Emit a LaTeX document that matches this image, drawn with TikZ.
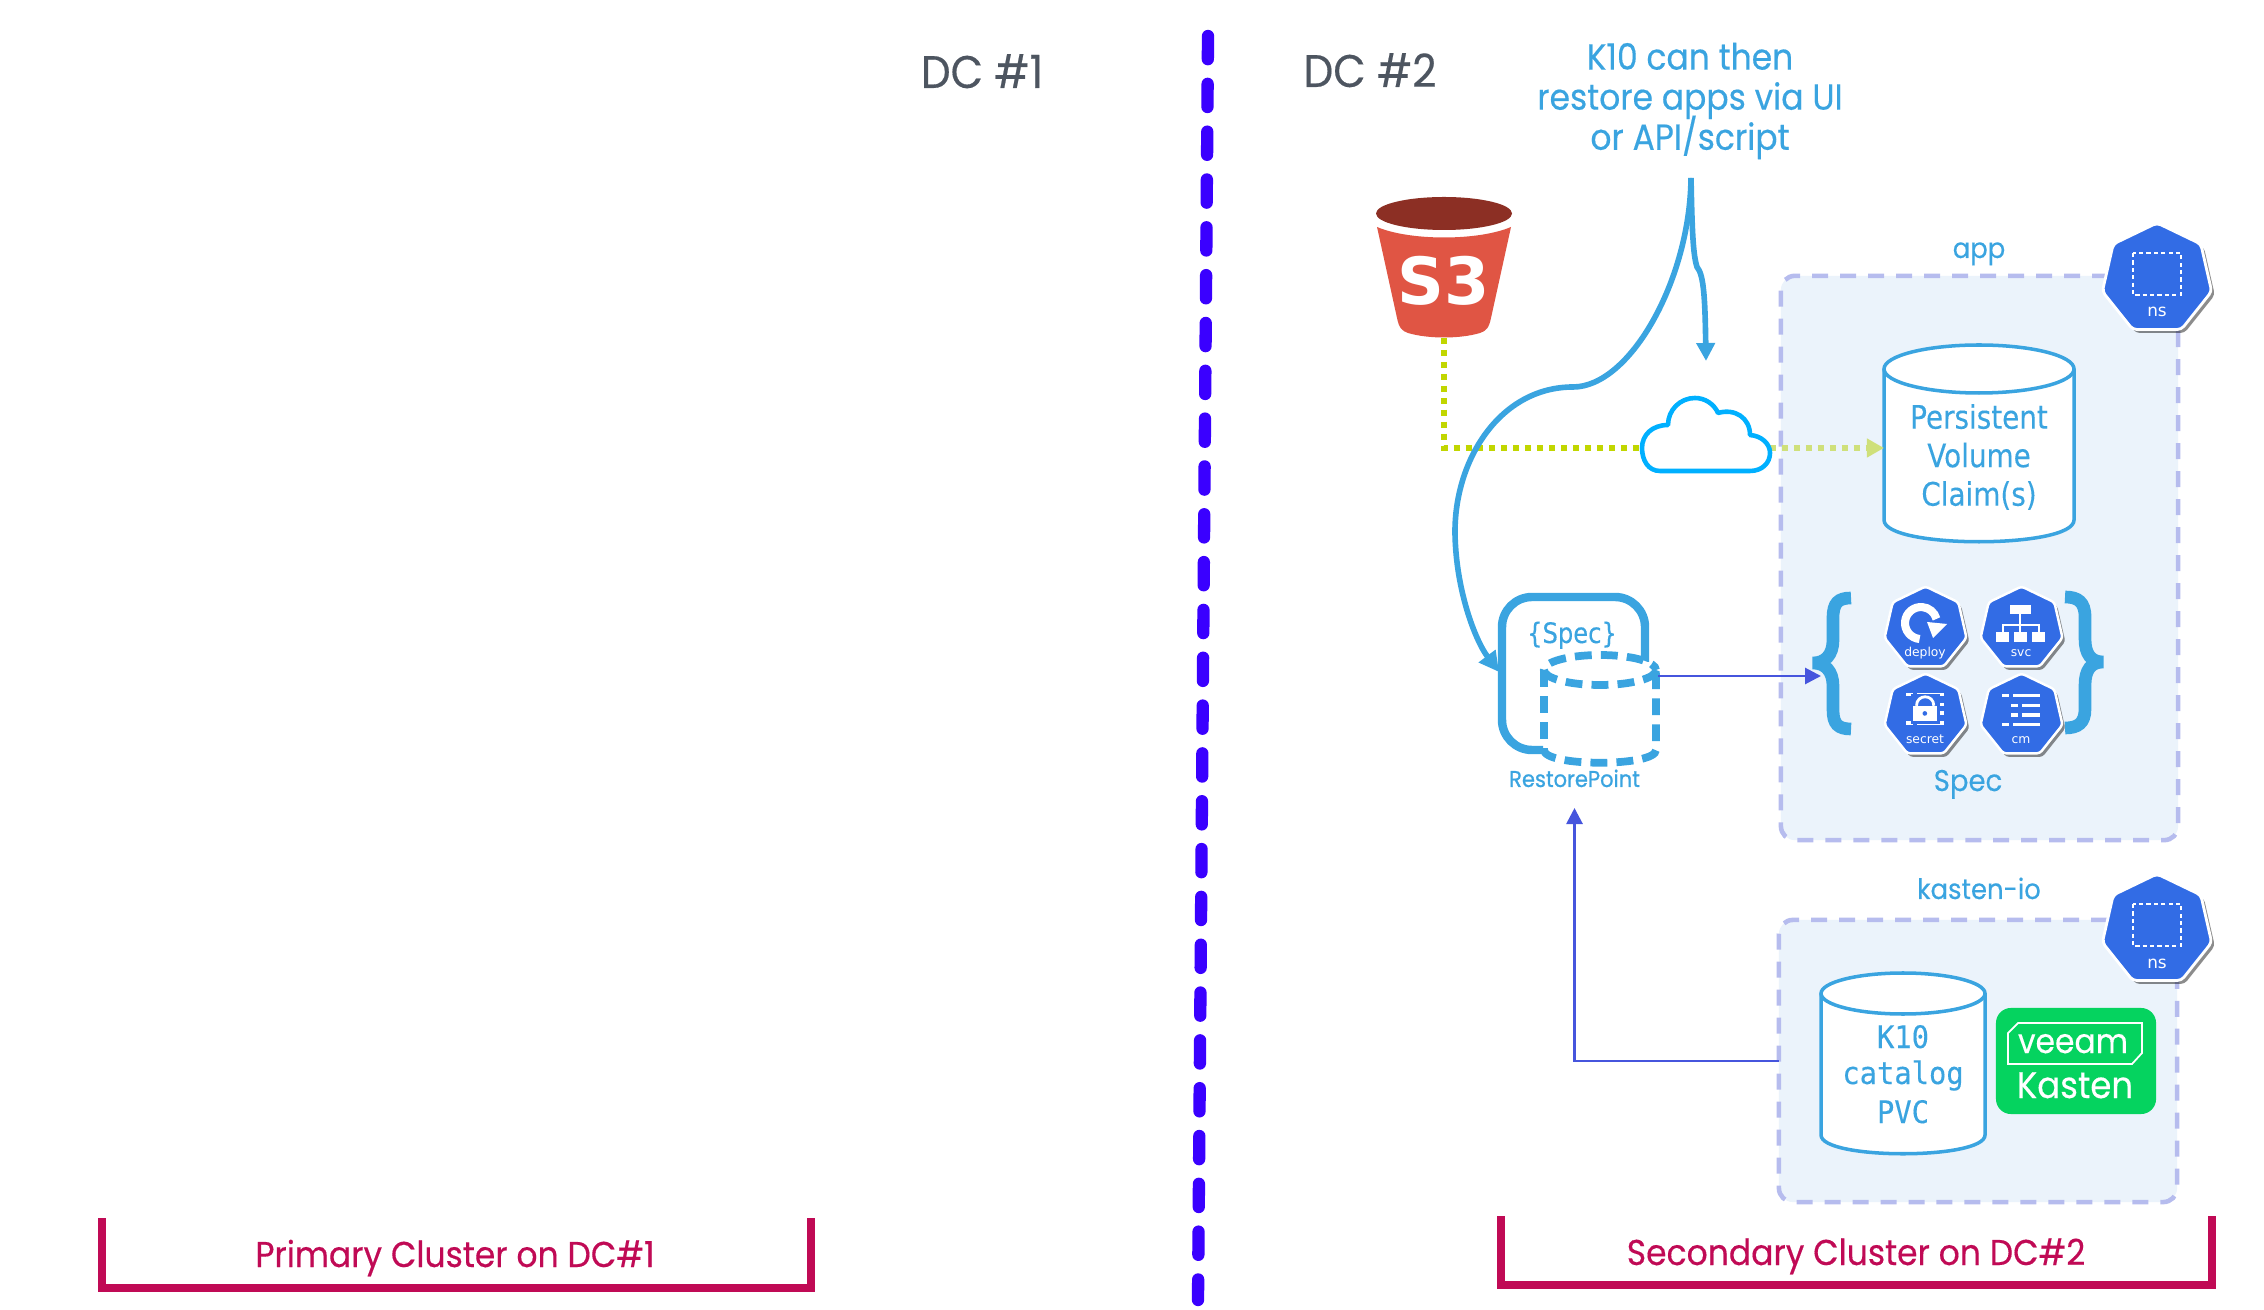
\documentclass[tikz,border=0pt]{standalone}
\usepackage{fontspec}
\usetikzlibrary{arrows.meta,shapes.geometric,shadows}
\setmainfont{Poppins}
\newfontfamily\popn[FakeStretch=0.92,FakeBold=0.35]{Poppins}
\newfontfamily\popnote[FakeStretch=0.91,FakeBold=0.35]{Poppins}
\newfontfamily\popb[FakeStretch=0.92,FakeBold=0.8]{Poppins}
\newfontfamily\djv{DejaVu Sans}
\newfontfamily\djvn[FakeStretch=0.86,FakeBold=0.15]{DejaVu Sans}
\newfontfamily\djvb{DejaVu Sans Bold}
\newfontfamily\djvm[FakeStretch=0.93,FakeBold=0.2]{DejaVu Sans Mono}
\definecolor{kblue}{HTML}{3AA4E0}
\definecolor{kindigo}{HTML}{4655DD}
\definecolor{kviolet}{HTML}{3A00FF}
\definecolor{kpanel}{HTML}{EBF3FB}
\definecolor{kdash}{HTML}{B6BCEE}
\definecolor{kgreen}{HTML}{C1D600}
\definecolor{kpale}{HTML}{CFE07A}
\definecolor{kcloud}{HTML}{00B0FF}
\definecolor{kmag}{HTML}{C00A55}
\definecolor{kgrey}{HTML}{4D5560}
\definecolor{khept}{HTML}{326CE5}
\definecolor{kveeam}{HTML}{05D35F}
\definecolor{klid}{HTML}{8C2F24}
\definecolor{kbody}{HTML}{E05544}
\tikzset{
  panelbox/.style={draw=kdash,fill=kpanel,line width=1.3pt,dash pattern=on 4.55pt off 3.41pt,rounded corners=.14cm,outer sep=0,inner sep=0},
  cylline/.style={draw=kblue,line width=1pt,fill=white},
  bluetext/.style={text=kblue,inner sep=0,outer sep=0},
  greytext/.style={text=kgrey,inner sep=0,font=\popn\fontsize{13}{15}\selectfont},
  magtext/.style={text=kmag,inner sep=0,font=\popn\fontsize{10.2}{12}\selectfont},
  bracketline/.style={draw=kmag,line width=2.28pt},
  bigcurve/.style={draw=kblue,line width=1.6pt},
  dotline/.style={line width=1.7pt,dash pattern=on 1.7pt off 1.7pt},
  heptbig/.style={regular polygon,regular polygon sides=7,minimum size=1.12cm,inner sep=0,outer sep=0,fill=khept,draw=white,line width=.8pt,rounded corners=.04cm,drop shadow={shadow xshift=.9pt,shadow yshift=-1pt,opacity=.45,fill=black}},
  heptsmall/.style={regular polygon,regular polygon sides=7,minimum size=.84cm,inner sep=0,outer sep=0,fill=khept,draw=white,line width=.7pt,rounded corners=.03cm,drop shadow={shadow xshift=.8pt,shadow yshift=-1pt,opacity=.45,fill=black}},
  hepttext/.style={text=white,inner sep=0,font=\djv\fontsize{3.5}{4}\selectfont},
  nstext/.style={text=white,inner sep=0,font=\djv\fontsize{4.8}{5}\selectfont},
  iconfill/.style={fill=white,draw=none},
  bracestroke/.style={draw=kblue,line width=3.6pt},
}
\lineskiplimit=-100pt
\begin{document}
\begin{tikzpicture}[x=0.01cm,y=-0.01cm]
\useasboundingbox (0,0) rectangle (2264,1310);

% panels
\node[panelbox,minimum width=3.97cm,minimum height=5.64cm] (apppanel) at (1979.5,558) {};
\node[panelbox,minimum width=3.98cm,minimum height=2.82cm] (kastenpanel) at (1978,1061) {};

% divider
\coordinate (divtop) at (1208,36);
\coordinate (divbot) at (1198,1300);
\draw[kviolet,line width=3.5pt,line cap=round,dash pattern=on 6.6pt off 7pt] (divtop) -- (divbot);

% titles
\node[greytext,anchor=base] (dc1) at (982,88) {DC \#1};
\node[greytext,anchor=base] (dc2) at (1370,87) {DC \#2};
\node[bluetext,align=center,font=\popnote\fontsize{10.3}{11.4}\selectfont] (note) at (1690,101) {K10 can then\\restore apps via UI\\or API/script};

% brackets
\coordinate (b1a) at (102,1218); \coordinate (b1b) at (102,1288);
\coordinate (b1c) at (811,1288); \coordinate (b1d) at (811,1218);
\draw[bracketline] (b1a) -- (b1b) -- (b1c) -- (b1d);
\coordinate (b2a) at (1501,1216); \coordinate (b2b) at (1501,1285);
\coordinate (b2c) at (2212,1285); \coordinate (b2d) at (2212,1216);
\draw[bracketline] (b2a) -- (b2b) -- (b2c) -- (b2d);
\node[magtext,anchor=base] (primary) at (455,1267) {Primary Cluster on DC\#1};
\node[magtext,anchor=base] (secondary) at (1856,1265) {Secondary Cluster on DC\#2};

% S3 bucket
\fill[kbody] (1377,227) .. controls (1410,241) and (1478,241) .. (1511,227) -- (1491,318) .. controls (1489,328) and (1486,331) .. (1480,333) .. controls (1460,339) and (1428,339) .. (1408,333) .. controls (1402,331) and (1399,328) .. (1397,318) -- cycle;
\fill[klid] (1444,213.5) ellipse [x radius=68,y radius=16.5];
\node[text=white,inner sep=0,anchor=base,font=\djvb\fontsize{18.5}{20}\selectfont] (s3) at (1444,305) {S3};
\coordinate (s3foot) at (1444,338);

% dotted green lines
\coordinate (cloudw) at (1642,448);
\coordinate (cloude) at (1770,448);

% PVC cylinder
\draw[cylline] (1884,369) -- (1884,520) .. controls (1884,549) and (2074,549) .. (2074,520) -- (2074,369);
\draw[cylline] (1979,369) ellipse [x radius=95,y radius=24];
\node[inner sep=0,outer sep=0,minimum width=1.9cm,minimum height=1.97cm] (pvc) at (1979,443.5) {};
\node[bluetext,align=center,font=\djvn\fontsize{9.2}{10.95}\selectfont] (pvctext) at (1979,457) {Persistent\\Volume\\Claim(s)};

\draw[kgreen,dotline] (s3foot) |- (cloudw);
\draw[kpale,dotline,-{Triangle[length=.17cm,width=.18cm]}] (cloude) -- (pvc.west |- cloude);

% cloud
\draw[kcloud,line width=1.3pt,fill=white,line join=round] (1660,471)
  .. controls (1648,471) and (1642,460) .. (1642,448)
  .. controls (1642,435) and (1652,425) .. (1668,425)
  .. controls (1668,410) and (1680,398) .. (1695,398)
  .. controls (1705,398) and (1714,404) .. (1718,413)
  .. controls (1735,408) and (1750,418) .. (1750,435)
  .. controls (1762,436) and (1770,444) .. (1770,453)
  .. controls (1770,463) and (1762,471) .. (1750,471) -- cycle;

% big curves
\coordinate (notefoot) at (1691,178);
\coordinate (cloudtip) at (1706,361);
\coordinate (rptip) at (1499,672);
\draw[bigcurve,-{Triangle[length=.2cm,width=.2cm]}] (notefoot) .. controls (1690,280) and (1630,387) .. (1573,387) .. controls (1500,387) and (1454,460) .. (1455,534) .. controls (1456,590) and (1475,640) .. (rptip);
\draw[bigcurve,-{Triangle[length=.18cm,width=.18cm]}] (notefoot) .. controls (1692,230) and (1693,255) .. (1697,267) .. controls (1704,275) and (1705,300) .. (cloudtip);

% restore point
\draw[kblue,line width=2.4pt,rounded corners=.3cm] (1543,750) -- (1502,750) -- (1502,597) -- (1645,597) -- (1645,662);
\fill[white] (1544,670) -- (1544,750) .. controls (1544,767) and (1656,767) .. (1656,750) -- (1656,670) -- cycle;
\fill[white] (1600,670) ellipse [x radius=56,y radius=15];
\draw[kblue,line width=2.2pt,dash pattern=on 4.8pt off 2.6pt] (1544,670) -- (1544,750) .. controls (1544,767) and (1656,767) .. (1656,750) -- (1656,670);
\draw[kblue,line width=2.2pt,dash pattern=on 4.8pt off 2.6pt] (1600,670) ellipse [x radius=56,y radius=15];
\node[bluetext,anchor=base,font=\djvn\fontsize{8}{9}\selectfont] (spectag) at (1572,643) {\{Spec\}};
\node[bluetext,anchor=base,font=\popb\fontsize{6.5}{8}\selectfont] (rplabel) at (1574.5,787) {RestorePoint};
\node[inner sep=0,outer sep=0,minimum width=1.15cm,minimum height=.1cm] (rp) at (1600.5,676) {};
\coordinate (rpfoot) at (1574.5,808);
\coordinate (bracein) at (1821,676);

% connectors
\draw[kindigo,line width=.8pt,-{Triangle[length=.16cm,width=.16cm]}] (rp.east) -- (bracein);
\draw[kindigo,line width=.8pt,-{Triangle[length=.16cm,width=.16cm]}] (kastenpanel.west) -| (rpfoot);

% panel labels
\node[bluetext,anchor=base,font=\popn\fontsize{8}{9}\selectfont] (applabel) at (1979,258) {app};
\node[bluetext,anchor=base,font=\popn\fontsize{8}{9}\selectfont] (kastenlabel) at (1979,899) {kasten-io};
\node[bluetext,anchor=base,font=\popn\fontsize{8.5}{10}\selectfont] (speclabel) at (1968,791) {Spec};

% braces
\draw[bracestroke] (1851,598) .. controls (1838,598) and (1833,603) .. (1833,618) -- (1833,640) .. controls (1833,655) and (1825,663) .. (1813,663) .. controls (1825,663) and (1833,671) .. (1833,686) -- (1833,710) .. controls (1833,724) and (1838,729) .. (1851,729);
\draw[bracestroke] (2065,597) .. controls (2078,597) and (2085,602) .. (2085,617) -- (2085,639) .. controls (2085,654) and (2091,662) .. (2103,662) .. controls (2091,662) and (2085,670) .. (2085,685) -- (2085,709) .. controls (2085,723) and (2078,728) .. (2065,728);

% ns badges
\node[heptbig] (nsapp) at (2157,279) {};
\draw[white,line width=.5pt,dash pattern=on 1.2pt off .9pt] (2133,253) rectangle (2181,295);
\node[nstext,anchor=base] (nsapplabel) at (2157,317) {ns};
\node[heptbig] (nskasten) at (2157,930) {};
\draw[white,line width=.5pt,dash pattern=on 1.2pt off .9pt] (2133,904) rectangle (2181,946);
\node[nstext,anchor=base] (nskastenlabel) at (2157,968) {ns};

% spec badges
\node[heptsmall] (deploy) at (1925.5,628.5) {};
\node[heptsmall] (svc) at (2021.5,628.5) {};
\node[heptsmall] (secret) at (1925.5,715.5) {};
\node[heptsmall] (cm) at (2021.5,715.5) {};
\node[hepttext,anchor=base] (deploylabel) at (1925,657) {deploy};
\node[hepttext,anchor=base] (svclabel) at (2021,657) {svc};
\node[hepttext,anchor=base] (secretlabel) at (1925,744) {secret};
\node[hepttext,anchor=base] (cmlabel) at (2021,744) {cm};

% deploy icon
\draw[white,line width=2.3pt] (1919.6,639) arc[start angle=265,end angle=15,radius=.16cm];
\fill[iconfill] (1927,622) -- (1947,624) -- (1933,638) -- cycle;

\begin{scope}[shift={(1800,570)},x=0.003333cm,y=-0.003333cm]
% svc icon
\fill[iconfill] (630,105) rectangle (695,133);
\fill[iconfill] (590,187) rectangle (628,215);
\fill[iconfill] (643,187) rectangle (682,215);
\fill[iconfill] (697,187) rectangle (737,215);
\draw[white,line width=.5pt] (662,133) -- (662,187) (609,187) -- (609,165) -- (717,165) -- (717,187);
% secret icon
\foreach \xa/\xb/\ya in {318/340/375,352/432/375,415/432/405,415/432/430,318/340/460,352/432/460}
  \fill[iconfill] (\xa,\ya-5) rectangle (\xb,\ya+5);
\fill[khept] (332,372) rectangle (420,462);
\draw[white,line width=.8pt] (350,408) .. controls (350,372) and (402,372) .. (402,408);
\fill[iconfill] (340,408) rectangle (412,455);
\fill[khept] (375,431) circle [radius=7];
% cm icon
\foreach \xa/\xb/\ya in {607/627/378,640/720/378,635/655/407,668/720/407,635/655/436,668/720/436,607/627/465,640/720/465}
  \fill[iconfill] (\xa,\ya-5) rectangle (\xb,\ya+5);
\end{scope}

% K10 catalog cylinder
\draw[cylline] (1821,993.5) -- (1821,1135) .. controls (1821,1160) and (1985,1160) .. (1985,1135) -- (1985,993.5);
\draw[cylline] (1903,993.5) ellipse [x radius=82,y radius=20.5];
\node[bluetext,anchor=base,font=\djvm\fontsize{8.8}{9}\selectfont] (k10a) at (1903,1048) {K10};
\node[bluetext,anchor=base,font=\djvm\fontsize{8.8}{9}\selectfont] (k10b) at (1903,1084) {catalog};
\node[bluetext,anchor=base,font=\djvm\fontsize{8.8}{9}\selectfont] (k10c) at (1903,1123) {PVC};

% Veeam Kasten logo
\node[fill=kveeam,rounded corners=.15cm,minimum width=1.6cm,minimum height=1.06cm,inner sep=0,outer sep=0] (logo) at (2076,1061) {};
\draw[white,line width=.5pt] (2008,1033) -- (2018,1023) -- (2142,1023) -- (2142,1053) -- (2132,1064) -- (2008,1064) -- cycle;
\node[text=white,inner sep=0,anchor=base,font=\popn\fontsize{9.7}{11}\selectfont] (veeam) at (2073,1053) {veeam};
\node[text=white,inner sep=0,anchor=base,font=\popn\fontsize{10.5}{12}\selectfont] (kasten) at (2075,1098) {Kasten};
\end{tikzpicture}
\end{document}
